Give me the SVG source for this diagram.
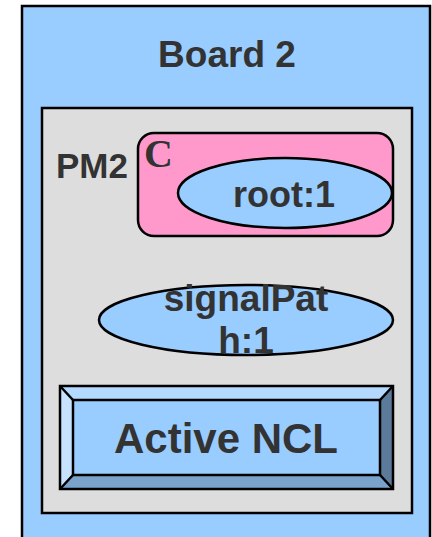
<svg xmlns="http://www.w3.org/2000/svg" width="432" height="537" viewBox="0 0 432 537">
<style>
.t{font-family:"Liberation Sans",Arial,sans-serif;font-weight:bold;fill:#333333;text-anchor:middle}
.s{stroke:#000;stroke-width:2.5}
</style>
<rect width="432" height="537" fill="#ffffff"/>
<g id="board2">
<rect x="22" y="6" width="408" height="540" fill="#99CCFF" class="s"/>
<text class="t" x="227" y="67" font-size="37">Board 2</text>
</g>
<g id="pm2">
<rect x="42" y="108" width="370" height="405" fill="#DDDDDD" class="s"/>
<text class="t" x="92" y="178" font-size="35">PM2</text>
</g>
<g id="container">
<rect x="138" y="133" width="255" height="103" rx="16" fill="#FF99CC" class="s"/>
<text x="144" y="167" font-family="'Liberation Serif','Times New Roman',serif" font-weight="bold" font-size="40" fill="#333333">C</text>
</g>
<g id="root1">
<ellipse cx="285" cy="193" rx="107" ry="35" fill="#99CCFF" class="s"/>
<text class="t" x="284" y="207" font-size="36">root:1</text>
</g>
<g id="signalPath1">
<ellipse cx="246" cy="320" rx="147" ry="35" fill="#99CCFF" class="s"/>
<text class="t" x="246" y="311" font-size="37">signalPat</text>
<text class="t" x="246" y="353" font-size="37">h:1</text>
</g>
<g id="activeNCL">
<polygon points="60,386 393,386 380,400 73,400" fill="#B3D9FF"/>
<polygon points="60,386 73,400 73,475 60,489" fill="#C6E2FF"/>
<polygon points="393,386 393,489 380,475 380,400" fill="#5C7A99"/>
<polygon points="60,489 73,475 380,475 393,489" fill="#7AA3CC"/>
<rect x="73" y="400" width="307" height="75" fill="#99CCFF" class="s"/>
<rect x="60" y="386" width="333" height="103" fill="none" class="s"/>
<path d="M60,386 L73,400 M393,386 L380,400 M60,489 L73,475 M393,489 L380,475" class="s"/>
<text class="t" x="226" y="453" font-size="42">Active NCL</text>
</g>
<g id="connectors"></g>
</svg>
